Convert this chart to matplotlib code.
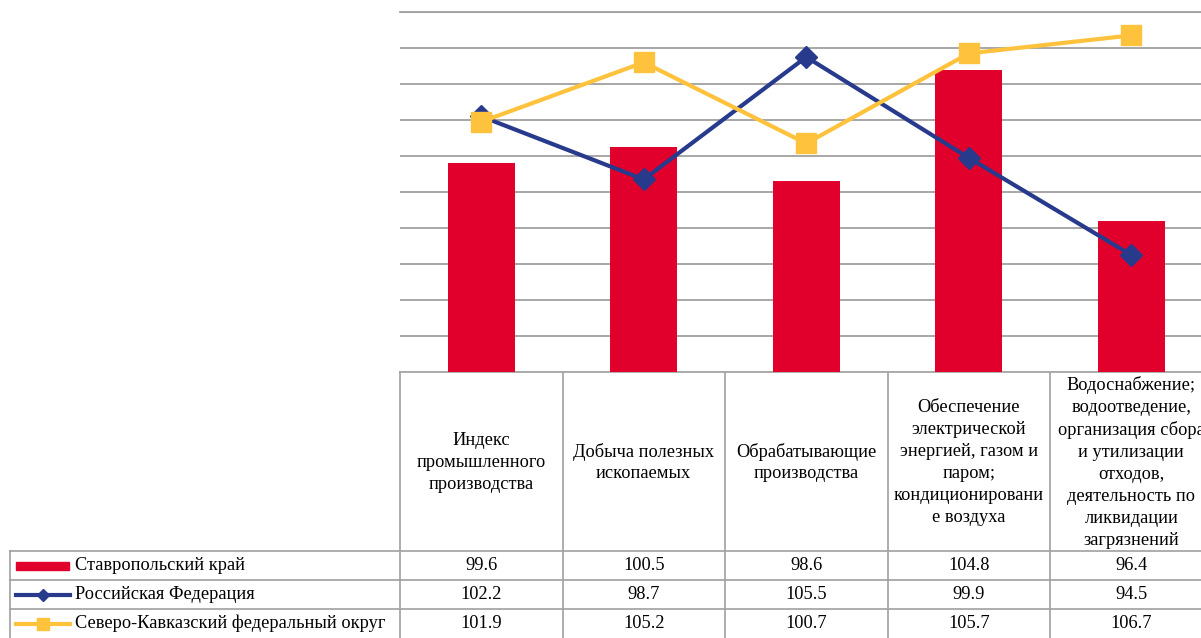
import matplotlib
matplotlib.use("Agg")
import matplotlib.pyplot as plt
from matplotlib.lines import Line2D
from matplotlib.patches import Rectangle

plt.rcParams['font.family'] = ['Liberation Serif', 'DejaVu Serif']

categories = [
    "Индекс\nпромышленного\nпроизводства",
    "Добыча полезных\nископаемых",
    "Обрабатывающие\nпроизводства",
    "Обеспечение\nэлектрической\nэнергией, газом и\nпаром;\nкондиционировани\nе воздуха",
    "Водоснабжение;\nводоотведение,\nорганизация сбора\nи утилизации\nотходов,\nдеятельность по\nликвидации\nзагрязнений",
]
series_names = ["Ставропольский край", "Российская Федерация", "Северо-Кавказский федеральный округ"]
stavropol = [99.6, 100.5, 98.6, 104.8, 96.4]
russia = [102.2, 98.7, 105.5, 99.9, 94.5]
skfo = [101.9, 105.2, 100.7, 105.7, 106.7]

RED = "#E0002B"
BLUE = "#283A8C"
YELLOW = "#FFC23C"
GRID = "#A0A0A0"
FS = 13.2

W, H = 1201, 638
fig = plt.figure(figsize=(W / 100, H / 100), dpi=100)

# layout in pixels
x0 = 400
colw = 162.5
plot_top, plot_bot = 12, 372
row_h = 29
head_bot = 551

ax = fig.add_axes([x0 / W, (H - plot_bot) / H, 5 * colw / W, (plot_bot - plot_top) / H])
xs = list(range(len(categories)))
ax.bar(xs, stavropol, width=0.41, color=RED, zorder=2, bottom=0)
ax.plot(xs, russia, color=BLUE, lw=3, marker="D", ms=11, zorder=3)
ax.plot(xs, skfo, color=YELLOW, lw=3, marker="s", ms=14, zorder=4)
ax.set_xlim(-0.5, 4.5)
ax.set_ylim(88, 108)
ax.set_yticks(range(88, 109, 2))
ax.grid(axis="y", color=GRID, lw=1.3, zorder=0)
ax.tick_params(left=False, bottom=False, labelleft=False, labelbottom=False)
for s in ax.spines.values():
    s.set_visible(False)
ax.axhline(108, color=GRID, lw=1.3, zorder=0, clip_on=False)

# data table drawn in pixel coordinates
tab = fig.add_axes([0, 0, 1, 1], zorder=-1)
tab.set_xlim(0, W)
tab.set_ylim(H, 0)
tab.axis("off")
tk = dict(color=GRID, lw=1.2)
right = x0 + 5 * colw
# header row
tab.plot([x0, right], [plot_bot, plot_bot], **tk)
for i in range(6):
    tab.plot([x0 + i * colw] * 2, [plot_bot, H + 5], **tk)
tab.plot([10, 10], [head_bot, H + 5], **tk)
for k in range(3):
    y = head_bot + k * row_h
    tab.plot([10, right], [y, y], **tk)

for i, c in enumerate(categories):
    tab.text(x0 + (i + 0.5) * colw, (plot_bot + head_bot) / 2 + 1, c, ha="center", va="center",
             fontsize=FS, linespacing=1.38)

rows = [stavropol, russia, skfo]
for k, (name, vals) in enumerate(zip(series_names, rows)):
    yc = head_bot + (k + 0.5) * row_h
    for i, v in enumerate(vals):
        tab.text(x0 + (i + 0.5) * colw, yc, f"{v:.1f}", ha="center", va="center", fontsize=FS)
    tab.text(75, yc, name, ha="left", va="center", fontsize=FS)

yc = head_bot + 0.5 * row_h
tab.add_patch(Rectangle((16, yc - 4), 53, 8, color=RED))
yc = head_bot + 1.5 * row_h
tab.add_line(Line2D([16, 70], [yc, yc], color=BLUE, lw=3))
tab.plot([43], [yc], marker="D", color=BLUE, ms=6)
yc = head_bot + 2.5 * row_h
tab.add_line(Line2D([16, 70], [yc, yc], color=YELLOW, lw=3))
tab.plot([43], [yc], marker="s", color=YELLOW, ms=9)

fig.savefig("out.png", dpi=100)
